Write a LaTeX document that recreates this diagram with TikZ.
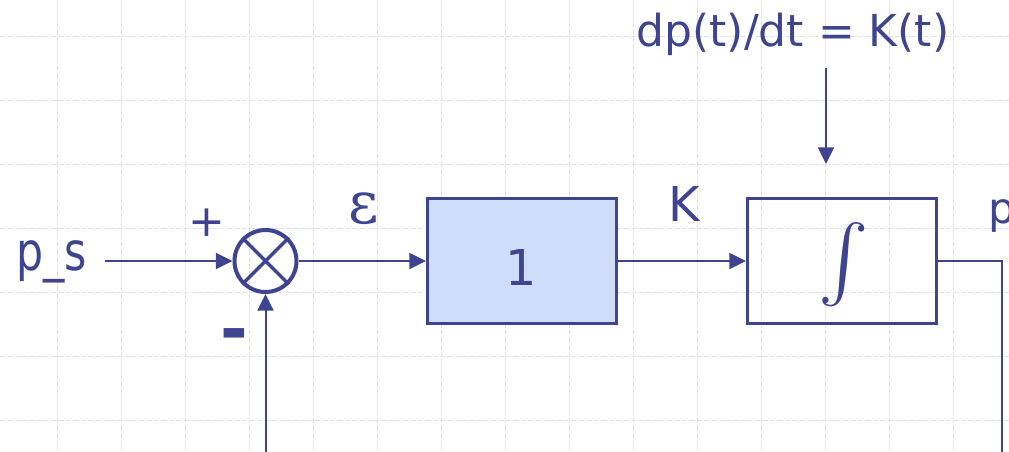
\documentclass[tikz,border=0pt]{standalone}
\usepackage{fontspec}
\setmainfont{DejaVu Sans}
\newfontfamily\epsfont{DejaVu Serif}
\usetikzlibrary{arrows.meta}
\definecolor{ink}{RGB}{62,68,143}
\definecolor{boxfill}{RGB}{207,220,250}
\definecolor{gridc}{RGB}{218,225,249}
\tikzset{
  blockbox/.style={draw=ink, line width=2pt, minimum width=142pt, minimum height=94pt, inner sep=0pt},
  sumnode/.style={circle, draw=ink, line width=3pt, minimum size=46.5pt, inner sep=0pt},
  conn/.style={draw=ink, line width=1.5pt, -{Triangle[length=12.5pt,width=12pt]}},
  crossline/.style={draw=ink, line width=2.5pt},
  lbl/.style={text=ink, inner sep=0pt},
  gridline/.style={draw=gridc, line width=1pt, dash pattern=on 4pt off 1.5pt},
}
\begin{document}
\begin{tikzpicture}[x=0.75pt,y=-0.75pt]
\useasboundingbox (0,0) rectangle (1009,451);
\clip (0,0) rectangle (1009,451);
\fill[white] (0,0) rectangle (1009,451);
\foreach \i in {0,...,14} \draw[gridline] ({57.8+64*\i},0) -- ({57.8+64*\i},451);
\foreach \j in {0,...,6} \draw[gridline] (0,{36.8+64*\j}) -- (1009,{36.8+64*\j});

% blocks
\node[sumnode] (sum) at (265.5,261) {};
\draw[crossline] (sum.north west) -- (sum.south east) (sum.north east) -- (sum.south west);
\node[blockbox, fill=boxfill] (gain) at (522,261) {};
\node[lbl, font=\fontsize{37}{37}\selectfont, anchor=base] (one) at (521.5,285.5) {1};
\node[blockbox] (integ) at (842,261) {};
\node[lbl] (intsym) at (843.5,265) {\scalebox{5.7}{$\int$}};

% labels
\node[lbl, font=\fontsize{33}{33}\selectfont, anchor=base] (rate) at (793,46.7) {dp(t)/dt = K(t)};
\node[lbl, font=\fontsize{40}{40}\selectfont, anchor=base] (ps) at (51.5,270) {\scalebox{0.8}[1]{p\_s}};
\node[lbl, font=\fontsize{33}{33}\selectfont, anchor=base] (plus) at (206.5,236.5) {+};
\node[lbl, font=\bfseries\fontsize{50}{50}\selectfont, anchor=base] (minus) at (234.5,352) {-};
\node[lbl, font=\epsfont\fontsize{44}{44}\selectfont, anchor=base] (eps) at (364,223) {ε};
\node[lbl, font=\fontsize{36}{36}\selectfont, anchor=base] (klbl) at (684.5,221.7) {K};
\node[lbl, font=\fontsize{32}{32}\selectfont, anchor=base west] (pout) at (988,223.5) {p};

% connectors
\coordinate (psE) at (105,261);
\coordinate (rateS) at (826,68);
\coordinate (rateE) at (826,164);
\coordinate (fbR) at (1002,480);
\coordinate (fbL) at (265.5,480);
\draw[conn] (psE) -- (sum.west);
\draw[conn] (sum.east) -- (gain.west);
\draw[conn] (gain.east) -- (integ.west);
\draw[conn] (rateS) -- (rateE);
\draw[conn] (integ.east) -| (fbR) -- (fbL) -- (sum.south);
\end{tikzpicture}
\end{document}
